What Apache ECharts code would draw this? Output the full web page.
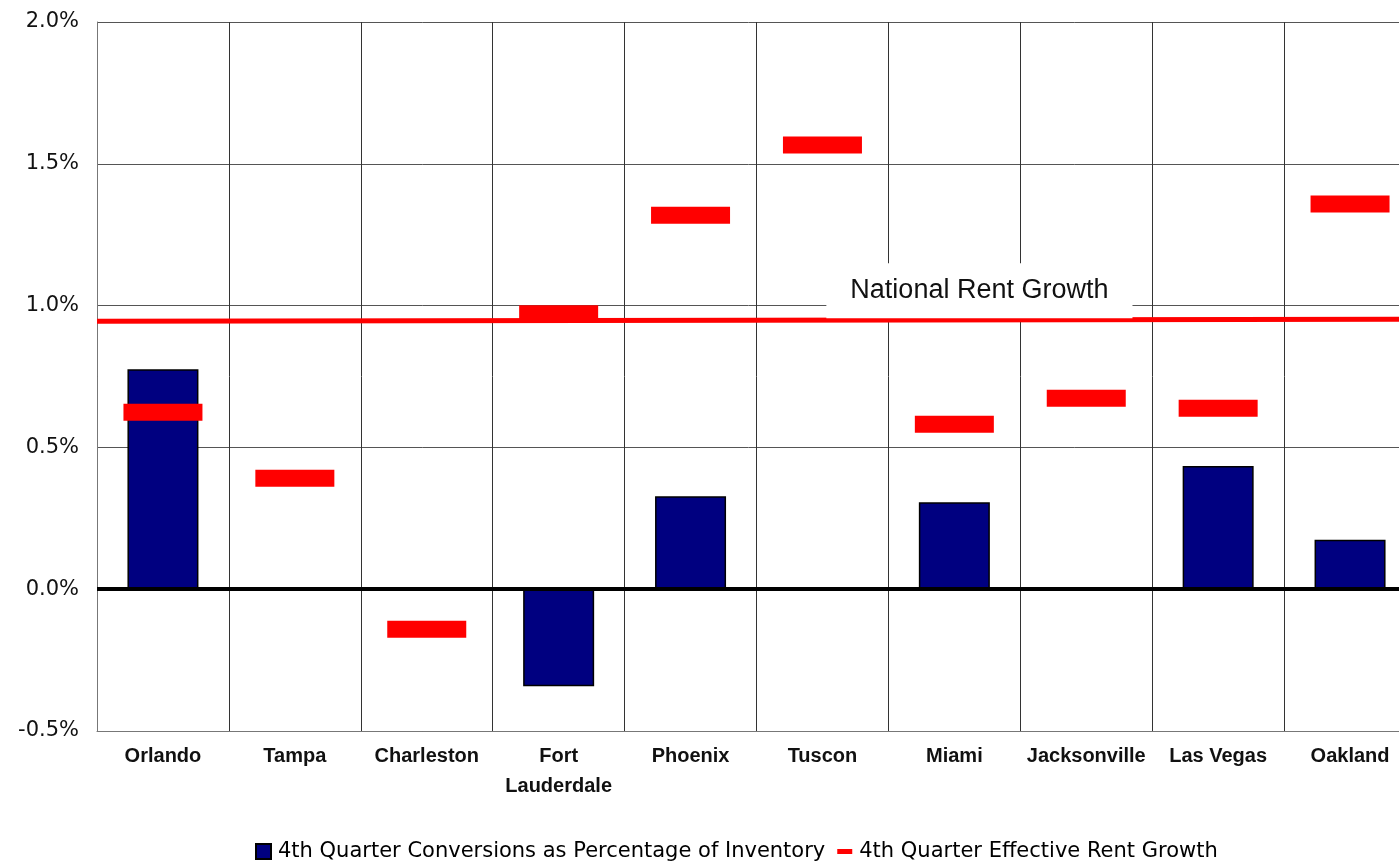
<!DOCTYPE html>
<html>
<head>
<meta charset="utf-8">
<script src="https://cdn.jsdelivr.net/npm/echarts@6/dist/echarts.min.js"></script>
<style>
  html, body { margin: 0; padding: 0; background: #fff; }
  #chart { width: 1399px; height: 861px; }
</style>
</head>
<body>
<div id="chart"></div>
<script>
// Markets, in display order
const cities = ['Orlando', 'Tampa', 'Charleston', 'Fort\nLauderdale', 'Phoenix', 'Tuscon', 'Miami', 'Jacksonville', 'Las Vegas', 'Oakland'];

// 4th quarter conversions as a percentage of inventory (%); null = none
const conversions = [0.776, null, null, -0.342, 0.328, null, 0.307, null, 0.434, 0.174];

// 4th quarter effective rent growth (%)
const rentGrowth = [0.624, 0.391, -0.141, 0.971, 1.319, 1.566, 0.582, 0.673, 0.638, 1.358];

// National rent growth reference line (%), start and end of the plot width
const nationalGrowth = [0.945, 0.952];

// Y axis range and step (%)
const yMin = -0.5, yMax = 2.0, yStep = 0.5;

const seriesNames = ['4th Quarter Conversions as Percentage of Inventory', '4th Quarter Effective Rent Growth'];
const nationalLabel = 'National Rent Growth';
// label anchor in plot units (category index along x, percent along y)
const nationalLabelAt = [6.69, 1.052];

const chart = echarts.init(document.getElementById('chart'), null, { renderer: 'canvas' });

const option = {
  animation: false,
  backgroundColor: '#ffffff',
  // the plot runs slightly past the right edge of the page
  grid: { left: 97, top: 22, width: 1319, bottom: 130, containLabel: false, outerBoundsMode: 'none' },
  legend: {
    left: 250,
    top: 836,
    itemGap: 12,
    itemWidth: 15,
    itemHeight: 15,
    textStyle: { fontFamily: 'DejaVu Sans', fontSize: 21, color: '#000', padding: [0, 0, 0, 2] },
    data: [
      { name: seriesNames[0], icon: 'rect' },
      { name: seriesNames[1], icon: 'path://M0,0 H18 V6 H0 Z' }
    ]
  },
  xAxis: [
    {
      type: 'category',
      data: cities,
      boundaryGap: true,
      axisTick: { show: false },
      axisLine: { show: true, onZero: false, lineStyle: { color: '#777', width: 1 } },
      splitLine: { show: true, lineStyle: { color: '#333', width: 1 } },
      axisLabel: {
        interval: 0,
        margin: 10,
        fontFamily: 'Liberation Sans',
        fontWeight: 'bold',
        fontSize: 20,
        lineHeight: 30,
        color: '#111'
      }
    },
    { type: 'value', min: 0, max: cities.length, show: false }
  ],
  yAxis: {
    type: 'value',
    min: yMin,
    max: yMax,
    interval: yStep,
    axisLine: { show: true, lineStyle: { color: '#777', width: 1 } },
    axisTick: { show: false },
    splitLine: { show: true, lineStyle: { color: '#555', width: 1 } },
    axisLabel: {
      margin: 18,
      fontFamily: 'DejaVu Sans',
      fontSize: 21,
      color: '#111',
      formatter: v => v.toFixed(1) + '%'
    }
  },
  series: [
    {
      name: seriesNames[0],
      type: 'bar',
      data: conversions,
      barWidth: 71,
      itemStyle: { color: '#000080', borderColor: '#000', borderWidth: 1.5 },
      markLine: {
        silent: true,
        symbol: 'none',
        label: { show: false },
        lineStyle: { color: '#000', width: 4, type: 'solid' },
        data: [{ yAxis: 0 }],
        z: 5
      },
      z: 2
    },
    {
      name: 'national',
      type: 'line',
      xAxisIndex: 1,
      data: [[0, nationalGrowth[0]], [cities.length, nationalGrowth[1]]],
      symbol: 'none',
      lineStyle: { color: '#ff0000', width: 5 },
      markPoint: {
        silent: true,
        symbol: 'rect',
        symbolSize: 0,
        data: [{ coord: nationalLabelAt }],
        label: {
          show: true,
          formatter: nationalLabel,
          position: 'inside',
          fontFamily: 'Liberation Sans',
          fontSize: 27,
          color: '#111',
          backgroundColor: '#fff',
          padding: [14, 24, 14, 24]
        }
      },
      z: 3
    },
    {
      name: seriesNames[1],
      type: 'scatter',
      data: rentGrowth,
      symbol: 'rect',
      symbolSize: [79, 17],
      itemStyle: { color: '#ff0000', opacity: 1 },
      z: 4
    }
  ]
};

chart.setOption(option);
</script>
</body>
</html>
